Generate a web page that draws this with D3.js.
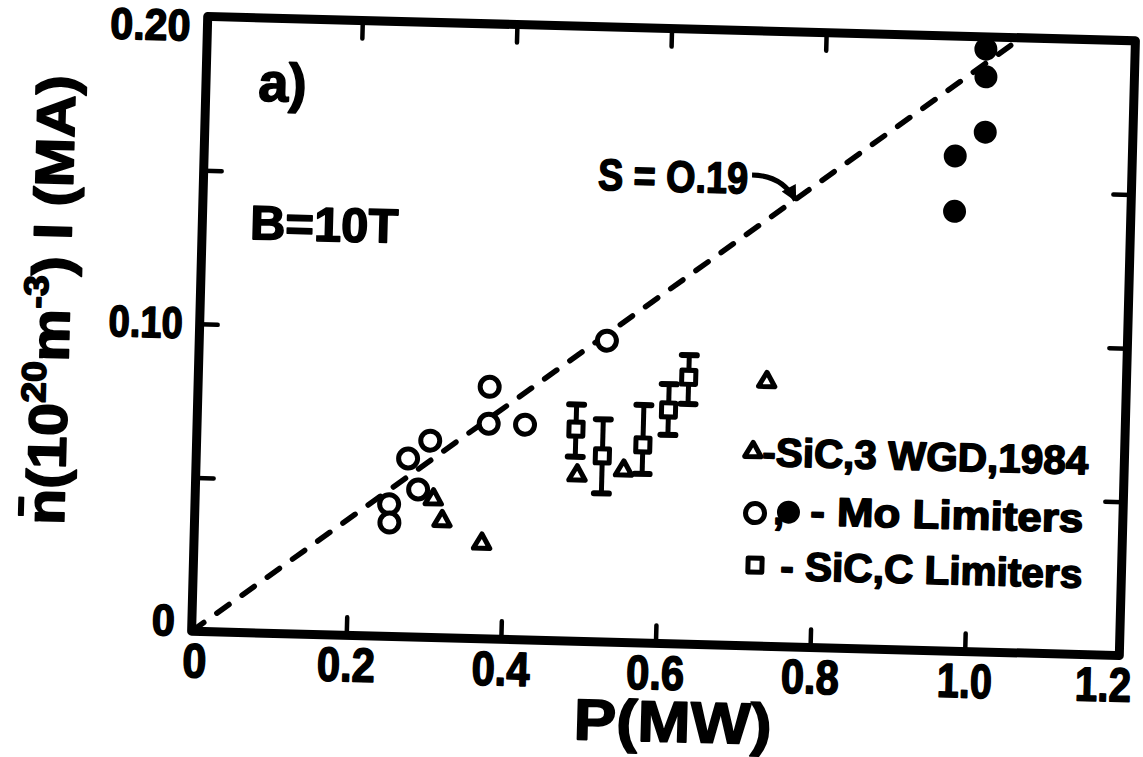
<!DOCTYPE html>
<html>
<head>
<meta charset="utf-8">
<script src="https://d3js.org/d3.v7.min.js"></script>
<style>
  body { margin: 0; background: #fff; }
  text {
    font-family: 'Liberation Sans', Arial, sans-serif; font-weight: bold; fill: #000;
    stroke: #000; stroke-width: 1.6px; stroke-linejoin: round;
  }
</style>
</head>
<body>
<div id="chart"></div>
<script>
// ---- data ----
const xTicks = [0, 0.2, 0.4, 0.6, 0.8, 1.0, 1.2];
const xTickText = ['0', '0.2', '0.4', '0.6', '0.8', '1.0', '1.2'];
const yTicks = [0, 0.05, 0.10, 0.15, 0.20];
const yLabelled = [0, 0.10, 0.20];
const yTickText = ['0', '0.10', '0.20'];

// open circles: Mo limiters
const moOpenP = [0.377, 0.377, 0.424, 0.302, 0.274, 0.288, 0.251, 0.252, 0.527];
const moOpenN = [0.082, 0.070, 0.070, 0.064, 0.058, 0.048, 0.043, 0.037, 0.098];
// filled circles: Mo limiters
const moFilledP = [1.007, 1.008, 1.009, 0.971, 0.972];
const moFilledN = [0.196, 0.187, 0.169, 0.161, 0.143];
// triangles: SiC, 3 WGD, 1984
const sic84P = [0.308, 0.320, 0.372, 0.493, 0.553, 0.735];
const sic84N = [0.045, 0.038, 0.031, 0.054, 0.056, 0.086];
// squares with error bars: SiC, C limiters
const sicCP  = [0.490, 0.525, 0.577, 0.609, 0.634];
const sicCN  = [0.069, 0.0605, 0.0644, 0.076, 0.0868];
const sicCHi = [0.077, 0.0724, 0.0774, 0.0844, 0.094];
const sicCLo = [0.060, 0.0483, 0.055, 0.0679, 0.0781];

const fitSlope = 0.19;

// ---- layout ----
const width = 1143;
const height = 757;
const plotL = 199.5, plotR = 1127.5, plotT = 28.5, plotB = 643.5;

const x = d3.scaleLinear().domain([0, 1.2]).range([plotL, plotR]);
const y = d3.scaleLinear().domain([0, 0.2]).range([plotB, plotT]);

const svg = d3.select('#chart')
    .append('svg')
    .attr('width', width)
    .attr('height', height);

svg.append('rect').attr('width', width).attr('height', height).attr('fill', '#fff');

// the scan is tilted a little clockwise
const g = svg.append('g')
    .attr('transform', `rotate(1.5, ${(plotL + plotR) / 2}, ${(plotT + plotB) / 2 + 0.5})`);

// arrow head
svg.append('defs').append('marker')
    .attr('id', 'arrow')
    .attr('viewBox', '0 0 10 10')
    .attr('refX', 9)
    .attr('refY', 5)
    .attr('markerUnits', 'userSpaceOnUse')
    .attr('markerWidth', 19)
    .attr('markerHeight', 16)
    .attr('orient', 'auto')
    .append('path')
    .attr('d', 'M0,0 L10,5 L0,10 Z')
    .attr('fill', '#000');

// ---- fit line S = 0.19 ----
const fitLine = d3.line().x(d => x(d[0])).y(d => y(d[1]));
g.append('path')
    .attr('d', fitLine([[0, 0], [0.2 / fitSlope, 0.2]]))
    .attr('fill', 'none')
    .attr('stroke', '#000')
    .attr('stroke-width', 5.5)
    .attr('stroke-linecap', 'round')
    .attr('stroke-dasharray', '15,16');

// ---- axes (inward ticks on all four sides) ----
function styleAxis(sel) {
    sel.select('.domain').remove();
    sel.selectAll('.tick line').attr('stroke', '#000').attr('stroke-width', 4.5).attr('stroke-linecap', 'round');
}

// label widths in the scan are narrower than the font, so squeeze them
const xLabelWidth = [24, 58, 58, 58, 58, 55, 56];
const yLabelWidth = [23, 74, 80];

const xAxis = g.append('g')
    .attr('transform', `translate(0, ${plotB})`)
    .call(d3.axisBottom(x).tickValues(xTicks).tickSizeInner(-18).tickSizeOuter(0).tickPadding(12)
        .tickFormat((d, i) => xTickText[i]));
styleAxis(xAxis);
xAxis.selectAll('text')
    .attr('font-size', 48).attr('font-family', null).attr('fill', '#000')
    .attr('textLength', (d, i) => xLabelWidth[i]).attr('lengthAdjust', 'spacingAndGlyphs')
    .attr('dx', (d, i) => i === 0 ? 3 : (i === xTicks.length - 1 ? -16 : 0));

const yAxis = g.append('g')
    .attr('transform', `translate(${plotL}, 0)`)
    .call(d3.axisLeft(y).tickValues(yTicks).tickSizeInner(-18).tickSizeOuter(0).tickPadding(17)
        .tickFormat(d => {
            const i = yLabelled.findIndex(v => Math.abs(v - d) < 1e-9);
            return i >= 0 ? yTickText[i] : '';
        }));
styleAxis(yAxis);
yAxis.selectAll('text')
    .attr('font-size', 44).attr('font-family', null).attr('fill', '#000')
    .each(function(d) {
        const i = yLabelled.findIndex(v => Math.abs(v - d) < 1e-9);
        if (i >= 0) d3.select(this).attr('textLength', yLabelWidth[i]).attr('lengthAdjust', 'spacingAndGlyphs');
    })
    .attr('dy', d => d === 0.2 ? '0.55em' : (d === 0 ? '0.1em' : '0.32em'));

const topAxis = g.append('g')
    .attr('transform', `translate(0, ${plotT})`)
    .call(d3.axisTop(x).tickValues(xTicks.slice(1, -1)).tickSizeInner(-18).tickSizeOuter(0).tickFormat(''));
styleAxis(topAxis);

const rightAxis = g.append('g')
    .attr('transform', `translate(${plotR}, 0)`)
    .call(d3.axisRight(y).tickValues(yTicks.slice(1, -1)).tickSizeInner(-18).tickSizeOuter(0).tickFormat(''));
styleAxis(rightAxis);

// ---- markers ----
const triPath = 'M0,-9.5 L8.2,4.75 L-8.2,4.75 Z';

function openCircle(sel, px, py) {
    sel.append('circle').attr('cx', px).attr('cy', py).attr('r', 9.5)
        .attr('fill', '#fff').attr('stroke', '#000').attr('stroke-width', 5);
}
function filledCircle(sel, px, py) {
    sel.append('circle').attr('cx', px).attr('cy', py).attr('r', 11.5).attr('fill', '#000');
}
function triangle(sel, px, py) {
    sel.append('path').attr('d', triPath).attr('transform', `translate(${px},${py})`)
        .attr('fill', '#fff').attr('stroke', '#000').attr('stroke-width', 5).attr('stroke-linejoin', 'round');
}
function square(sel, px, py) {
    sel.append('rect').attr('x', px - 7).attr('y', py - 7).attr('width', 14).attr('height', 14)
        .attr('fill', '#fff').attr('stroke', '#000').attr('stroke-width', 5).attr('stroke-linejoin', 'round');
}

const marks = g.append('g');

// error bars for SiC,C
sicCP.forEach((p, i) => {
    const bx = x(p);
    marks.append('line')
        .attr('x1', bx).attr('x2', bx).attr('y1', y(sicCHi[i])).attr('y2', y(sicCLo[i]))
        .attr('stroke', '#000').attr('stroke-width', 5);
    [sicCHi[i], sicCLo[i]].forEach(v => {
        marks.append('line')
            .attr('x1', bx - 7.5).attr('x2', bx + 7.5).attr('y1', y(v)).attr('y2', y(v))
            .attr('stroke', '#000').attr('stroke-width', 6).attr('stroke-linecap', 'round');
    });
});
sicCP.forEach((p, i) => square(marks, x(p), y(sicCN[i])));
sic84P.forEach((p, i) => triangle(marks, x(p), y(sic84N[i])));
moOpenP.forEach((p, i) => openCircle(marks, x(p), y(moOpenN[i])));
moFilledP.forEach((p, i) => filledCircle(marks, x(p), y(moFilledN[i])));

// ---- frame drawn over the marks ----
g.append('rect')
    .attr('x', plotL).attr('y', plotT)
    .attr('width', plotR - plotL).attr('height', plotB - plotT)
    .attr('fill', 'none')
    .attr('stroke', '#000')
    .attr('stroke-width', 9)
    .attr('stroke-linejoin', 'round');

// ---- annotations ----
g.append('text')
    .attr('x', x(0.068)).attr('y', y(0.173))
    .attr('font-size', 54)
    .text('a)');

g.append('text')
    .attr('x', x(0.062)).attr('y', y(0.128))
    .attr('font-size', 48)
    .attr('textLength', 148).attr('lengthAdjust', 'spacingAndGlyphs')
    .text('B=10T');

g.append('text')
    .attr('x', x(0.510)).attr('y', y(0.147))
    .attr('font-size', 44)
    .attr('textLength', 150).attr('lengthAdjust', 'spacingAndGlyphs')
    .text('S = O.19');

g.append('path')
    .attr('d', `M${x(0.709)},${y(0.1531)} Q${x(0.748)},${y(0.1532)} ${x(0.766)},${y(0.1452)}`)
    .attr('fill', 'none')
    .attr('stroke', '#000')
    .attr('stroke-width', 5)
    .attr('marker-end', 'url(#arrow)');

// ---- legend ----
const legend = g.append('g');
triangle(legend, x(0.7196), y(0.0631));
legend.append('text')
    .attr('x', x(0.7317)).attr('y', y(0.0586))
    .attr('font-size', 40)
    .attr('textLength', 326).attr('lengthAdjust', 'spacingAndGlyphs')
    .text('-SiC,3 WGD,1984');

openCircle(legend, x(0.7243), y(0.0432));
legend.append('text')
    .attr('x', x(0.748)).attr('y', y(0.0398))
    .attr('font-size', 40)
    .text(',');
filledCircle(legend, x(0.7675), y(0.0438));
legend.append('text')
    .attr('x', x(0.7958)).attr('y', y(0.0398))
    .attr('font-size', 40)
    .attr('textLength', 273).attr('lengthAdjust', 'spacingAndGlyphs')
    .text('- Mo Limiters');

square(legend, x(0.726), y(0.0263));
legend.append('text')
    .attr('x', x(0.7589)).attr('y', y(0.0217))
    .attr('font-size', 40)
    .attr('textLength', 302).attr('lengthAdjust', 'spacingAndGlyphs')
    .text('- SiC,C Limiters');

// ---- axis titles ----
g.append('text')
    .attr('x', x(0.625)).attr('y', plotB + 98)
    .attr('text-anchor', 'middle')
    .attr('font-size', 58)
    .attr('textLength', 198).attr('lengthAdjust', 'spacingAndGlyphs')
    .text('P(MW)');

const yTitle = g.append('text')
    .attr('transform', `translate(69, 316) rotate(-90)`)
    .attr('text-anchor', 'middle')
    .attr('font-size', 54)
    .attr('textLength', 450).attr('lengthAdjust', 'spacingAndGlyphs');
yTitle.append('tspan').text('n\u0304(10');
yTitle.append('tspan').attr('dy', -22).attr('font-size', 34).text('20');
yTitle.append('tspan').attr('dy', 22).text('m');
yTitle.append('tspan').attr('dy', -22).attr('font-size', 34).text('-3');
yTitle.append('tspan').attr('dy', 22).text(') I (MA)');
</script>
</body>
</html>
